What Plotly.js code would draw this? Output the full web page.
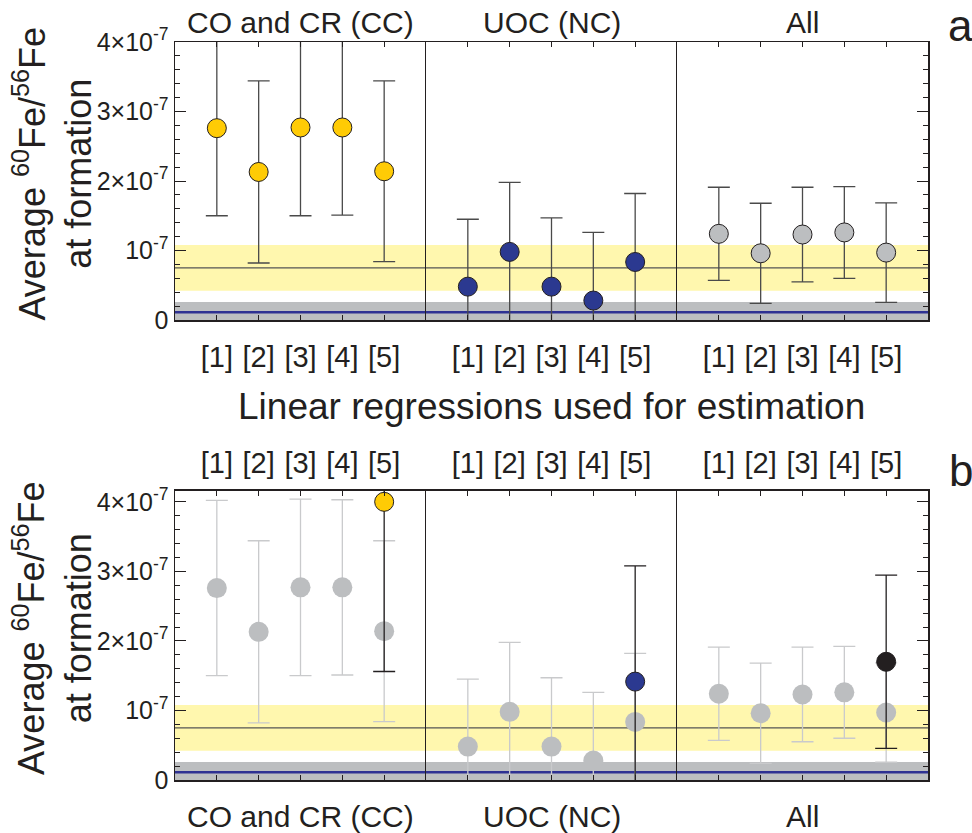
<!DOCTYPE html>
<html>
<head>
<meta charset="utf-8">
<script src="https://cdn.plot.ly/plotly-3.0.1.min.js"></script>
<style>html,body{margin:0;padding:0;background:#fff;}#chart{width:972px;height:833px;}</style>
</head>
<body>
<div id="chart"></div>
<script>
// ---- data ----
const regressions = ['[1]', '[2]', '[3]', '[4]', '[5]'];
const groupNames = ['CO and CR (CC)', 'UOC (NC)', 'All'];

// mean 60Fe/56Fe at formation and symmetric error, per linear regression
const ccMean = [2.76e-7, 2.13e-7, 2.77e-7, 2.77e-7, 2.14e-7];
const ccErr  = [1.26e-7, 1.31e-7, 1.27e-7, 1.26e-7, 1.30e-7];
const ncMean = [0.48e-7, 0.98e-7, 0.48e-7, 0.28e-7, 0.835e-7];
const ncErr  = [0.97e-7, 1.00e-7, 0.99e-7, 0.98e-7, 0.985e-7];
const allMean = [1.24e-7, 0.96e-7, 1.23e-7, 1.26e-7, 0.97e-7];
const allErr  = [0.67e-7, 0.72e-7, 0.68e-7, 0.66e-7, 0.715e-7];

// panel b: highlighted estimate for regression [5]
const hlRegression = ['[5]'];
const hlMean = [4.0e-7, 1.415e-7, 1.70e-7];
const hlErr  = [2.44e-7, 1.665e-7, 1.245e-7];

// reference bands / lines
const yellowBand = [0.42e-7, 1.08e-7];
const yellowLine = 0.75e-7;
const grayBand = [0, 0.26e-7];
const blueLine = 0.11e-7;

const yTickVals = [0, 1e-7, 2e-7, 3e-7, 4e-7];
const yTickText = ['0', '10<sup>-7</sup>', '2×10<sup>-7</sup>', '3×10<sup>-7</sup>', '4×10<sup>-7</sup>'];
const yTitle = 'Average <sup>60</sup>Fe/<sup>56</sup>Fe<br>at formation';
const xTitle = 'Linear regressions used for estimation';

// ---- styling ----
const FONT = 'Arial, "Liberation Sans", Helvetica, sans-serif';
const INK = '#231F20';
const GOLD = '#FFCB05', NAVY = '#2B3990', GRAY = '#BCBEC0', BLACK = '#231F20';
const groupColors = [GOLD, NAVY, GRAY];
const means = [ccMean, ncMean, allMean];
const errs = [ccErr, ncErr, allErr];

const rangeA = [0, 4e-7];
const rangeB = [0, 4.16e-7];
const domA = [0.6233, 1];
const domB = [0, 0.392];
const xDoms = [[0, 1/3], [1/3, 2/3], [2/3, 1]];

const traces = [];
// panel a
for (let g = 0; g < 3; g++) {
  traces.push({
    type: 'scatter', mode: 'markers', x: regressions, y: means[g],
    xaxis: 'x' + (g === 0 ? '' : g + 1), yaxis: 'y' + (g === 0 ? '' : g + 1),
    marker: {size: 19, color: groupColors[g], line: {color: INK, width: 1}},
    error_y: {type: 'data', array: errs[g], visible: true, color: '#4a4a4a', thickness: 1.3, width: 11},
    showlegend: false, hoverinfo: 'skip', cliponaxis: true
  });
}
// panel b (gray background estimates)
for (let g = 0; g < 3; g++) {
  traces.push({
    type: 'scatter', mode: 'markers', x: regressions, y: means[g],
    xaxis: 'x' + (g + 4), yaxis: 'y' + (g + 4),
    marker: {size: 20, color: GRAY},
    error_y: {type: 'data', array: errs[g], visible: true, color: '#C9CACC', thickness: 1.3, width: 11},
    showlegend: false, hoverinfo: 'skip', cliponaxis: true
  });
}
// panel b highlighted
const hlColors = [GOLD, NAVY, BLACK];
for (let g = 0; g < 3; g++) {
  traces.push({
    type: 'scatter', mode: 'markers', x: hlRegression, y: [hlMean[g]],
    xaxis: 'x' + (g + 4), yaxis: 'y' + (g + 4),
    marker: {size: 19, color: hlColors[g], line: {color: INK, width: 1}},
    error_y: {type: 'data', array: [hlErr[g]], visible: true, color: INK, thickness: 1.3, width: 11},
    showlegend: false, hoverinfo: 'skip', cliponaxis: true
  });
}

function xAxis(i, yDomAnchor, side, showLabels) {
  return {
    domain: xDoms[i], anchor: yDomAnchor, type: 'category',
    categoryorder: 'array', categoryarray: regressions, range: [-1, 5],
    showline: true, linecolor: INK, linewidth: 1.5, mirror: 'ticks',
    ticks: 'inside', ticklen: 5, tickwidth: 1, tickcolor: INK,
    showgrid: false, zeroline: false, side: side,
    showticklabels: showLabels, ticklabelstandoff: side === 'top' ? 5 : 11,
    tickfont: {family: FONT, size: 29, color: INK}, fixedrange: true
  };
}
function yAxisMain(dom, anchor, range) {
  return {
    domain: dom, anchor: anchor, range: range,
    showline: true, linecolor: INK, linewidth: 1.5,
    ticks: 'inside', ticklen: 11, tickwidth: 1, tickcolor: INK,
    tickmode: 'array', tickvals: yTickVals, ticktext: yTickText,
    minor: {tickmode: 'linear', tick0: 0, dtick: 2e-8, ticks: 'inside', ticklen: 5, tickcolor: INK, tickwidth: 1},
    tickfont: {family: FONT, size: 25, color: INK},
    showgrid: false, zeroline: false, fixedrange: true
  };
}
function yAxisMid(dom, anchor, range) {
  return {
    domain: dom, anchor: anchor, range: range,
    showline: true, linecolor: INK, linewidth: 1.2, ticks: '',
    showticklabels: false, showgrid: false, zeroline: false, fixedrange: true
  };
}
function yAxisRight(dom, anchor, range) {
  const a = yAxisMain(dom, anchor, range);
  a.side = 'right'; a.mirror = true; a.showticklabels = false; a.linewidth = 1.5;
  return a;
}

function bandShapes(yref) {
  const base = {xref: 'paper', yref: yref, x0: 0, x1: 1, layer: 'below'};
  return [
    Object.assign({}, base, {type: 'rect', y0: yellowBand[0], y1: yellowBand[1], fillcolor: '#FFF7AE', line: {width: 0}}),
    Object.assign({}, base, {type: 'line', y0: yellowLine, y1: yellowLine, line: {color: '#555555', width: 1.2}}),
    Object.assign({}, base, {type: 'rect', y0: grayBand[0], y1: grayBand[1], fillcolor: '#BCBEC0', line: {width: 0}}),
    Object.assign({}, base, {type: 'line', y0: blueLine, y1: blueLine, line: {color: '#2E3192', width: 2.5}})
  ];
}

const annotations = [];
const gCenters = [1/6, 1/2, 5/6];
for (let g = 0; g < 3; g++) {
  annotations.push({xref: 'paper', yref: 'paper', x: gCenters[g], y: 1.0271, text: groupNames[g],
    showarrow: false, xanchor: 'center', yanchor: 'middle', font: {family: FONT, size: 30, color: INK}});
  annotations.push({xref: 'paper', yref: 'paper', x: gCenters[g], y: -0.0488, text: groupNames[g],
    showarrow: false, xanchor: 'center', yanchor: 'middle', font: {family: FONT, size: 30, color: INK}});
}
annotations.push({xref: 'paper', yref: 'paper', x: 0.5, y: 0.506, text: xTitle, showarrow: false,
  xanchor: 'center', yanchor: 'middle', font: {family: FONT, size: 37, color: INK}});
[[0.8211], [0.2053]].forEach(function (p) {
  annotations.push({xref: 'paper', yref: 'paper', x: 0, xshift: -122.5, y: p[0], text: yTitle, textangle: -90,
    showarrow: false, xanchor: 'center', yanchor: 'middle', font: {family: FONT, size: 36, color: INK}});
});
annotations.push({xref: 'paper', yref: 'paper', x: 1.0438, y: 1.023, text: 'a', showarrow: false,
  xanchor: 'center', yanchor: 'middle', font: {family: FONT, size: 44, color: INK}});
annotations.push({xref: 'paper', yref: 'paper', x: 1.0438, y: 0.4187, text: 'b', showarrow: false,
  xanchor: 'center', yanchor: 'middle', font: {family: FONT, size: 44, color: INK}});

const layout = {
  width: 972, height: 833,
  margin: {l: 175, r: 44, t: 42, b: 53},
  paper_bgcolor: '#ffffff', plot_bgcolor: 'rgba(0,0,0,0)',
  font: {family: FONT, color: INK},
  showlegend: false,
  xaxis: xAxis(0, 'y', 'bottom', true),
  xaxis2: xAxis(1, 'y2', 'bottom', true),
  xaxis3: xAxis(2, 'y3', 'bottom', true),
  xaxis4: xAxis(0, 'y4', 'top', true),
  xaxis5: xAxis(1, 'y5', 'top', true),
  xaxis6: xAxis(2, 'y6', 'top', true),
  yaxis: yAxisMain(domA, 'x', rangeA),
  yaxis2: yAxisMid(domA, 'x2', rangeA),
  yaxis3: yAxisRight(domA, 'x3', rangeA),
  yaxis4: yAxisMain(domB, 'x4', rangeB),
  yaxis5: yAxisMid(domB, 'x5', rangeB),
  yaxis6: yAxisRight(domB, 'x6', rangeB),
  shapes: bandShapes('y').concat(bandShapes('y4')),
  annotations: annotations
};

Plotly.newPlot('chart', traces, layout, {staticPlot: true, displayModeBar: false});
</script>
</body>
</html>
